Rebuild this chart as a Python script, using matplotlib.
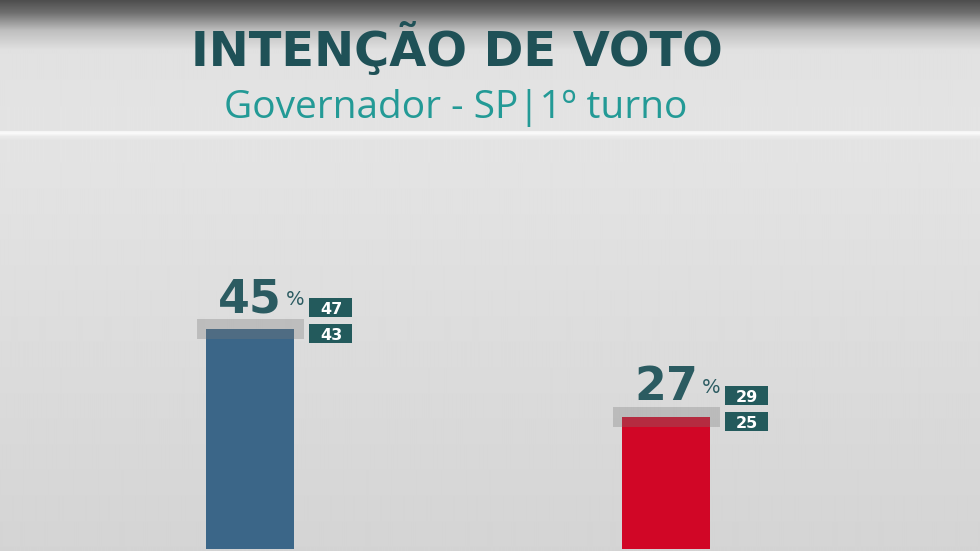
import numpy as np
import matplotlib
matplotlib.use("Agg")
import matplotlib.pyplot as plt

# Data
candidates = ["Candidato A", "Candidato B"]
votes = [45, 27]
upper = [47, 29]
lower = [43, 25]
bar_colors = ["#3b6688", "#d10626"]

TITLE = "INTENÇÃO DE VOTO"
SUBTITLE = "Governador - SP|1º turno"

DARK = "#1f5157"
TEAL = "#239a96"
BOX = "#235a5c"

W, H = 980, 551
fig = plt.figure(figsize=(W / 100, H / 100), dpi=100)

# background (top shadow, title panel, white rule, chart area)
bg = fig.add_axes([0, 0, 1, 1])
rows = np.arange(H)
shade = np.interp(rows, [0, 12, 30, 50, 130, 131, 133, 136, 140, 551],
                  [78, 110, 190, 225, 228, 245, 250, 235, 228, 212])
img = np.repeat(shade[:, None], 8, axis=1)
bg.imshow(img, cmap="gray", vmin=0, vmax=255, aspect="auto",
          extent=[0, 1, 0, 1], interpolation="bilinear")
bg.set_axis_off()

fig.text(457 / W, 1 - 66 / H, TITLE, ha="center", va="baseline",
         fontsize=34.5, fontweight="bold", color=DARK, family="DejaVu Sans")
fig.text(456 / W, 1 - 118 / H, SUBTITLE, ha="center", va="baseline",
         fontsize=28, color=TEAL, family=["Open Sans", "DejaVu Sans"])

# chart area
px = 4.889  # pixels per percentage point
ax = fig.add_axes([0, 2 / H, 1, 409 / H])
ax.patch.set_alpha(0)
ax.set_xlim(-0.601, 1.755)
ax.set_ylim(0, 409 / px)
ax.set_axis_off()

x = np.arange(len(candidates))
ax.bar(x, votes, width=0.2115, color=bar_colors, zorder=2)
# margin of error band
ax.bar(x + 0.002, [u - l for u, l in zip(upper, lower)], bottom=lower,
       width=0.258, color="#7a7a7a", alpha=0.32, zorder=3)

box_dx = 81 / 416
for xi, v, hi, lo in zip(x, votes, upper, lower):
    ax.annotate(f"{v}", (xi, v), xytext=(0, 12), textcoords="offset points",
                ha="center", va="baseline", fontsize=33, fontweight="bold",
                color="#2b5b61", family="DejaVu Sans", zorder=4)
    ax.annotate("%", (xi, v), xytext=(26, 17), textcoords="offset points",
                ha="left", va="baseline", fontsize=14,
                color="#2b5b61", family="DejaVu Sans", zorder=4)
    # high / low boxes
    for val, cy in ((hi, v + 21 / px), (lo, v - 5 / px)):
        ax.bar(xi + box_dx, 19 / px, bottom=cy - 9.5 / px, width=43 / 416,
               color=BOX, zorder=4)
        ax.text(xi + box_dx, cy, f"{val}", ha="center", va="center_baseline",
                fontsize=11.5, fontweight="bold", color="white",
                family="DejaVu Sans", zorder=5)

fig.savefig("out.png", dpi=100)
